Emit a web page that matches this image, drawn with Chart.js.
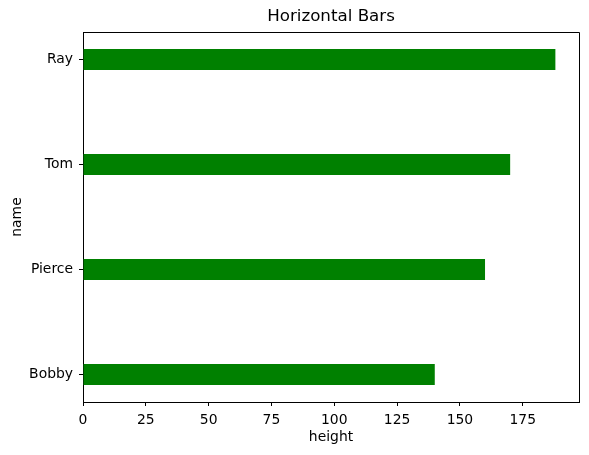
<!DOCTYPE html>
<html>
<head>
<meta charset="utf-8">
<script src="https://cdn.jsdelivr.net/npm/chart.js@4/dist/chart.umd.min.js"></script>
<style>
  html, body { margin: 0; padding: 0; background: #fff; }
  canvas { display: block; }
</style>
</head>
<body>
<canvas id="chart" width="589" height="455"></canvas>
<script>
// data
const names = ['Bobby', 'Pierce', 'Tom', 'Ray'];
const heights = [140, 160, 170, 188];
const xTicks = [0, 25, 50, 75, 100, 125, 150, 175];

const font = 'DejaVu Sans';

// draw the top and right sides of the axes frame
const framePlugin = {
  id: 'frame',
  afterDraw(chart) {
    const {ctx, chartArea: a} = chart;
    ctx.save();
    ctx.strokeStyle = '#000';
    ctx.lineWidth = 1;
    ctx.beginPath();
    ctx.moveTo(Math.round(a.left) + 0.5, Math.round(a.top) + 0.5);
    ctx.lineTo(Math.round(a.right) + 0.5, Math.round(a.top) + 0.5);
    ctx.lineTo(Math.round(a.right) + 0.5, Math.round(a.bottom) + 0.5);
    ctx.stroke();
    ctx.restore();
  }
};

const ctx = document.getElementById('chart');

new Chart(ctx, {
  type: 'bar',
  data: {
    datasets: [{
      data: heights.map((h, i) => ({x: h, y: i})),
      backgroundColor: '#008000',
      borderWidth: 0,
      barPercentage: 0.2,
      categoryPercentage: 1
    }]
  },
  plugins: [framePlugin],
  options: {
    indexAxis: 'y',
    responsive: false,
    animation: false,
    devicePixelRatio: 1,
    layout: { padding: { left: 0, right: 10, top: 0, bottom: 0 } },
    plugins: {
      legend: { display: false },
      tooltip: { enabled: false },
      title: {
        display: true,
        fullSize: false,
        text: 'Horizontal Bars',
        color: '#000',
        font: { family: font, size: 16.7, weight: 'normal' },
        padding: { top: 7, bottom: 5 }
      }
    },
    scales: {
      x: {
        type: 'linear',
        position: 'bottom',
        min: 0,
        max: Math.max(...heights) * 1.05,
        afterBuildTicks: (scale) => { scale.ticks = xTicks.map(v => ({value: v})); },
        afterFit: (scale) => { scale.height = 53; },
        ticks: { color: '#000', font: { family: font, size: 13.9 }, padding: 6, maxRotation: 0 },
        grid: { drawOnChartArea: false, drawTicks: true, tickLength: 4, color: '#000' },
        border: { color: '#000', width: 1 },
        title: {
          display: true,
          text: 'height',
          color: '#000',
          font: { family: font, size: 13.9 },
          padding: { top: 0, bottom: 9 }
        }
      },
      y: {
        type: 'linear',
        position: 'left',
        offset: false,
        min: -0.262,
        max: names.length - 1 + 0.262,
        afterBuildTicks: (scale) => { scale.ticks = names.map((n, i) => ({value: i})); },
        afterFit: (scale) => { scale.width = 83; },
        ticks: {
          color: '#000',
          font: { family: font, size: 13.9 },
          padding: 6,
          callback: (v) => names[v]
        },
        grid: { offset: false, drawOnChartArea: false, drawTicks: true, tickLength: 4, color: '#000' },
        border: { color: '#000', width: 1 },
        title: {
          display: true,
          text: 'name',
          color: '#000',
          font: { family: font, size: 13.9 },
          padding: { top: 9, bottom: 0 }
        }
      }
    }
  }
});
</script>
</body>
</html>
